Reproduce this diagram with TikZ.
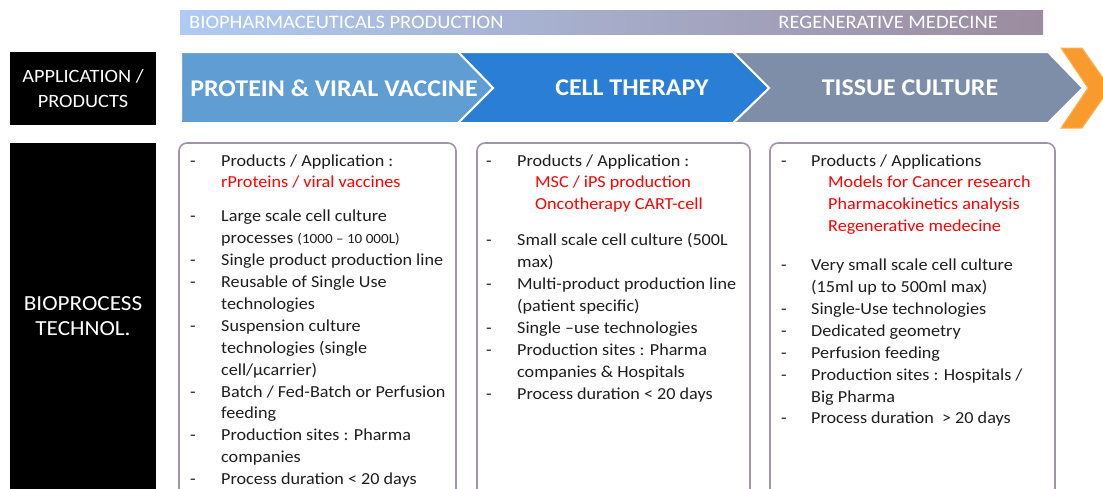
\documentclass[tikz,border=0pt]{standalone}
\usepackage{fontspec}
\setmainfont{Carlito}[FakeStretch=1.08]
\usepackage{array}
\definecolor{chevA}{HTML}{5F9DD3}
\definecolor{chevB}{HTML}{2A7ED6}
\definecolor{chevC}{HTML}{7F8EA8}
\definecolor{orangeC}{HTML}{F89A2C}
\definecolor{orangeL}{HTML}{FDB450}
\definecolor{bandL}{HTML}{AFCBF3}
\definecolor{bandM}{HTML}{C2C8E6}
\definecolor{bandR}{HTML}{9C8C9F}
\definecolor{boxline}{HTML}{A095A8}
\definecolor{bodytext}{HTML}{1E1E1E}
\definecolor{redtext}{HTML}{FF0000}
\begin{document}
\begin{tikzpicture}[x=1pt,y=-1pt,
  chevshape/.style={draw=white,line width=2pt},
  chevlabel/.style={text=white,font=\fontsize{24}{28}\selectfont\bfseries,inner sep=0pt},
  bandlabel/.style={text=white,font=\fontsize{19}{22}\selectfont,inner sep=0pt},
  blackbox/.style={fill=black,draw=none},
  sidelabel/.style={text=white,align=center,inner sep=0pt},
  listbox/.style={draw=boxline,line width=1.6pt,rounded corners=8pt,fill=white},
  listtext/.style={anchor=north west,inner sep=0pt,text=bodytext,font=\fontsize{16.8}{21.9}\selectfont}
]
\clip (0,0) rectangle (1103,488);
\fill[white] (0,0) rectangle (1103,488);

% top band
\shade[left color=bandL,middle color=bandM,right color=bandR] (180,10) rectangle (1043,34);
\node[bandlabel,anchor=west] (bandA) at (189,22) {BIOPHARMACEUTICALS PRODUCTION};
\node[bandlabel,anchor=east] (bandB) at (998,22) {REGENERATIVE MEDECINE};

% left black boxes
\fill[blackbox] (10,52) rectangle (156,125);
\node[sidelabel,font=\fontsize{18.8}{25}\selectfont] (appl) at (83,89) {APPLICATION /\\PRODUCTS};
\fill[blackbox] (10,143) rectangle (156,500);
\node[sidelabel,font=\fontsize{21.5}{25.5}\selectfont] (bioproc) at (83,316) {BIOPROCESS\\TECHNOL.};

% chevrons
\fill[orangeC,draw=orangeL,line width=1pt] (1061,48) -- (1082,48) -- (1110,88) -- (1082,128) -- (1061,128) -- (1088,88) -- cycle;
\filldraw[chevshape,fill=chevC] (733,52) -- (1048,52) -- (1083,88) -- (1048,123) -- (733,123) -- (769,88) -- cycle;
\filldraw[chevshape,fill=chevB] (458,52) -- (733,52) -- (769,88) -- (733,123) -- (458,123) -- (493,88) -- cycle;
\filldraw[chevshape,fill=chevA] (181,52) -- (458,52) -- (493,88) -- (458,123) -- (181,123) -- cycle;
\node[chevlabel] (chA) at (334,88) {PROTEIN \& VIRAL VACCINE};
\node[chevlabel] (chB) at (632,88) {CELL THERAPY};
\node[chevlabel] (chC) at (910,88) {TISSUE CULTURE};

% list boxes
\draw[listbox] (179,143) rectangle (456,520);
\draw[listbox] (477,143) rectangle (750,520);
\draw[listbox] (770,143) rectangle (1055,520);

\node[listtext] (listA) at (190,150.5) {%
\begin{tabular}{@{}p{31pt}@{}l@{}}
- & Products / Application :\\
  & \textcolor{redtext}{rProteins / viral vaccines}\\[12pt]
- & Large scale cell culture\\
  & processes {\fontsize{14}{21.9}\selectfont(1000 -- 10 000L)}\\
- & Single product production line\\
- & Reusable of Single Use\\
  & technologies\\
- & Suspension culture\\
  & technologies (single\\
  & cell/µcarrier)\\
- & Batch / Fed-Batch or Perfusion\\
  & feeding\\
- & Production sites : Pharma\\
  & companies\\
- & Process duration < 20 days
\end{tabular}};

\node[listtext] (listB) at (486,150.5) {%
\begin{tabular}{@{}p{31pt}@{}l@{}}
- & Products / Application :\\
  & \hspace{18pt}\textcolor{redtext}{MSC / iPS production}\\
  & \hspace{18pt}\textcolor{redtext}{Oncotherapy CART-cell}\\[14pt]
- & Small scale cell culture (500L\\
  & max)\\
- & Multi-product production line\\
  & (patient specific)\\
- & Single --use technologies\\
- & Production sites : Pharma\\
  & companies \& Hospitals\\
- & Process duration < 20 days
\end{tabular}};

\node[listtext] (listC) at (781,150.5) {%
\begin{tabular}{@{}p{30pt}@{}l@{}}
- & Products / Applications\\
  & \hspace{17pt}\textcolor{redtext}{Models for Cancer research}\\
  & \hspace{17pt}\textcolor{redtext}{Pharmacokinetics analysis}\\
  & \hspace{17pt}\textcolor{redtext}{Regenerative medecine}\\[17pt]
- & Very small scale cell culture\\
  & (15ml up to 500ml max)\\
- & Single-Use technologies\\
- & Dedicated geometry\\
- & Perfusion feeding\\
- & Production sites : Hospitals /\\
  & Big Pharma\\
- & Process duration \ > 20 days
\end{tabular}};
\end{tikzpicture}
\end{document}
